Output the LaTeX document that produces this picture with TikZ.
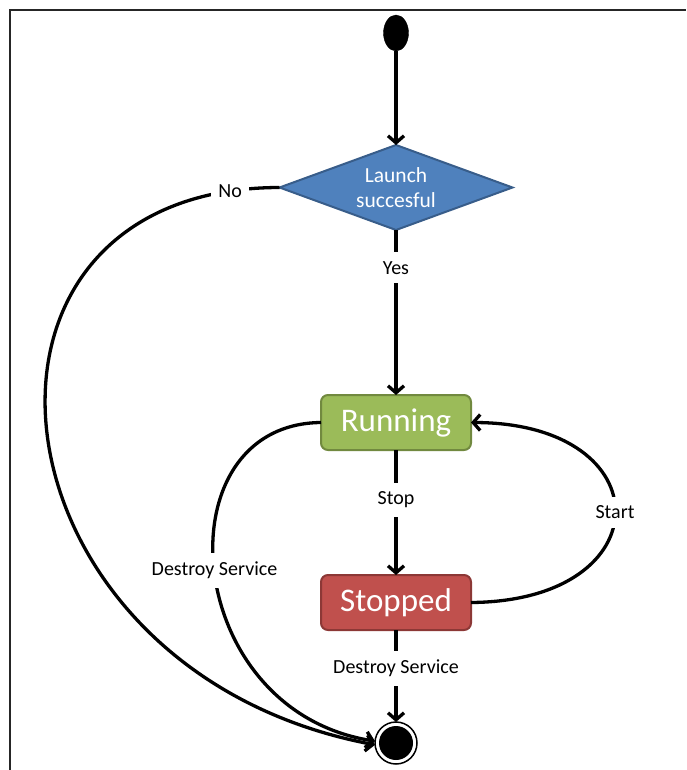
\documentclass[tikz,border=0pt]{standalone}
\usepackage{fontspec}
\setmainfont{Carlito}
\usepackage{tikz}
\usetikzlibrary{shapes,arrows,positioning,calc,arrows.meta}
\definecolor{launchfill}{HTML}{4F81BD}
\definecolor{launchedge}{HTML}{385D8A}
\definecolor{runfill}{HTML}{9BBB59}
\definecolor{runedge}{HTML}{71893F}
\definecolor{stopfill}{HTML}{C0504D}
\definecolor{stopedge}{HTML}{8C3836}

\begin{document}
\begin{tikzpicture}[x=1pt, y=-1pt, node distance=0pt, outer sep=0pt,
    flow/.style={line width=3.3pt, -{Straight Barb[length=7pt,width=16pt]}},
    lbl/.style={fill=white, inner xsep=7pt, inner ysep=9pt, font=\fontsize{20}{24}\selectfont},
    state/.style={draw, rectangle, rounded corners=7pt, line width=2pt, minimum width=150pt, minimum height=55pt, text=white, font=\fontsize{33}{40}\selectfont}]
        \useasboundingbox (0,0) rectangle (686,770);
        \draw [line width=1.8pt, black!85] (10,770) -- (10,10) -- (686,10);

        \node [draw, ellipse, fill=black, minimum width=25pt, minimum height=36pt] (Start) at (396,33) {};
        \node [draw=launchedge, diamond, aspect=2.7, fill=launchfill, line width=2pt, minimum width=233pt, minimum height=85pt, inner sep=0pt, align=center, text=white, font=\fontsize{21.5}{25}\selectfont, below=94pt of Start] (Launch) {Launch\\succesful};
        \node [state, fill=runfill, draw=runedge, below=165pt of Launch] (Running) {Running};
        \node [state, fill=stopfill, draw=stopedge, below=125pt of Running] (Stopped) {Stopped};
        \node [draw, circle, line width=1.5pt, minimum size=42pt, below=92pt of Stopped,
               path picture={\fill (path picture bounding box.center) circle (17pt);}] (Final) {};

        \draw [flow] (Start) -- (Launch);
        \draw [flow] (Launch) -- node [lbl, pos=0.23] {Yes} (Running);
        \draw [flow] (Running) -- node [lbl, pos=0.4] {Stop} (Stopped);
        \draw [flow] (Stopped) -- node [lbl, pos=0.42] {Destroy Service} (Final);
        % curved transitions
        \draw [flow] (Launch.west) .. controls (-70,188) and (-20,670) .. node [lbl, pos=0.05] {No} (Final.185);
        \draw [flow] (Running.west) .. controls (160,424) and (180,710) .. node [lbl, pos=0.5] {Destroy Service} (Final.175);
        \draw [flow] (Stopped.east) .. controls (663,601) and (663,423) .. node [lbl, pos=0.5] {Start} (Running.east);
    \end{tikzpicture}
\end{document}
